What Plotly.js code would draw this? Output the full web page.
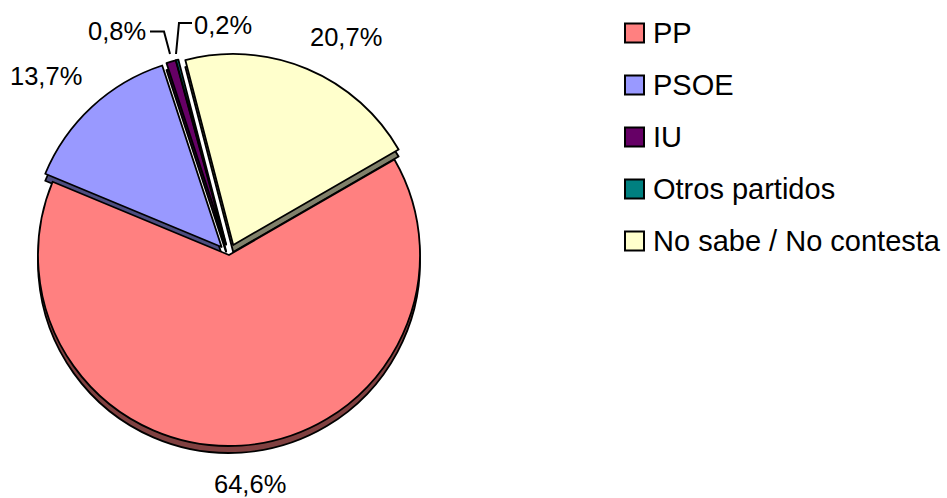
<!DOCTYPE html>
<html><head><meta charset="utf-8">
<script src="https://cdn.plot.ly/plotly-3.0.1.min.js"></script>
<style>html,body{margin:0;padding:0;background:#fff;}#chart{width:947px;height:498px;}</style>
</head><body><div id="chart"></div>
<script>
const labels = ['PP', 'PSOE', 'IU', 'Otros partidos', 'No sabe / No contesta'];
const values = [64.6, 13.7, 0.8, 0.2, 20.7];
const topColors = ['#FF8080', '#9999FF', '#660066', '#008080', '#FFFFCC'];
const sideColors = ['#804040', '#4D4D80', '#330033', '#004040', '#80806A'];
const pulls = [0, 0.057, 0.057, 0.057, 0.057];
// label text positions (pixels) and legend layout
const labelPos = [[250, 484], [46, 76], [117, 31], [223, 25], [346, 37]];

const W = 947, H = 498;
const cx = 229, cy = 255, r = 191;
const R = r * (1 + Math.max(...pulls));
const depth = 7;
const dom = (dy) => ({
  x: [(cx - R) / W, (cx + R) / W],
  y: [(H - cy - dy - R) / H, (H - cy - dy + R) / H]
});
const common = {
  type: 'pie', values: values, labels: labels, sort: false,
  direction: 'clockwise', rotation: 60, pull: pulls,
  textinfo: 'none', hoverinfo: 'label+percent', showlegend: false
};
const traces = [
  Object.assign({}, common, {
    domain: dom(depth),
    marker: {colors: sideColors, line: {color: '#000', width: 1.8}}
  }),
  Object.assign({}, common, {
    domain: dom(0),
    marker: {colors: topColors, line: {color: '#000', width: 1.8}}
  })
];

const fmt = v => v.toFixed(1).replace('.', ',') + '%';
const annotations = [];
const shapes = [];
values.forEach((v, i) => {
  annotations.push({
    text: fmt(v), xref: 'paper', yref: 'paper',
    x: labelPos[i][0] / W, y: 1 - labelPos[i][1] / H,
    xanchor: 'center', yanchor: 'middle', showarrow: false,
    font: {family: 'Liberation Sans, Arial, sans-serif', size: 25.5, color: '#000'}
  });
});
// leader lines for the small slices
const px = (x, y) => (x / W) + ',' + (1 - y / H);
shapes.push({type: 'path', xref: 'paper', yref: 'paper',
  path: 'M' + px(150, 31.5) + ' L' + px(164, 31.5) + ' L' + px(170, 54),
  line: {color: '#000', width: 2}});
shapes.push({type: 'path', xref: 'paper', yref: 'paper',
  path: 'M' + px(192, 23) + ' L' + px(179, 23) + ' L' + px(176, 54),
  line: {color: '#000', width: 2}});

// legend
const legX = 625, legY0 = 33, legStep = 52, box = 19;
labels.forEach((lab, i) => {
  const yc = legY0 + i * legStep;
  shapes.push({type: 'rect', xref: 'paper', yref: 'paper',
    x0: legX / W, x1: (legX + box) / W,
    y0: 1 - (yc + box / 2) / H, y1: 1 - (yc - box / 2) / H,
    fillcolor: topColors[i], line: {color: '#000', width: 2}});
  annotations.push({text: lab, xref: 'paper', yref: 'paper',
    x: 651 / W, y: 1 - yc / H, xanchor: 'left', yanchor: 'middle',
    showarrow: false,
    font: {family: 'Liberation Sans, Arial, sans-serif', size: 29, color: '#000'}});
});

const layout = {
  width: W, height: H,
  margin: {l: 0, r: 0, t: 0, b: 0},
  paper_bgcolor: '#fff', plot_bgcolor: '#fff',
  showlegend: false,
  annotations: annotations, shapes: shapes
};
Plotly.newPlot('chart', traces, layout, {displayModeBar: false, staticPlot: true});
</script>
</body></html>
